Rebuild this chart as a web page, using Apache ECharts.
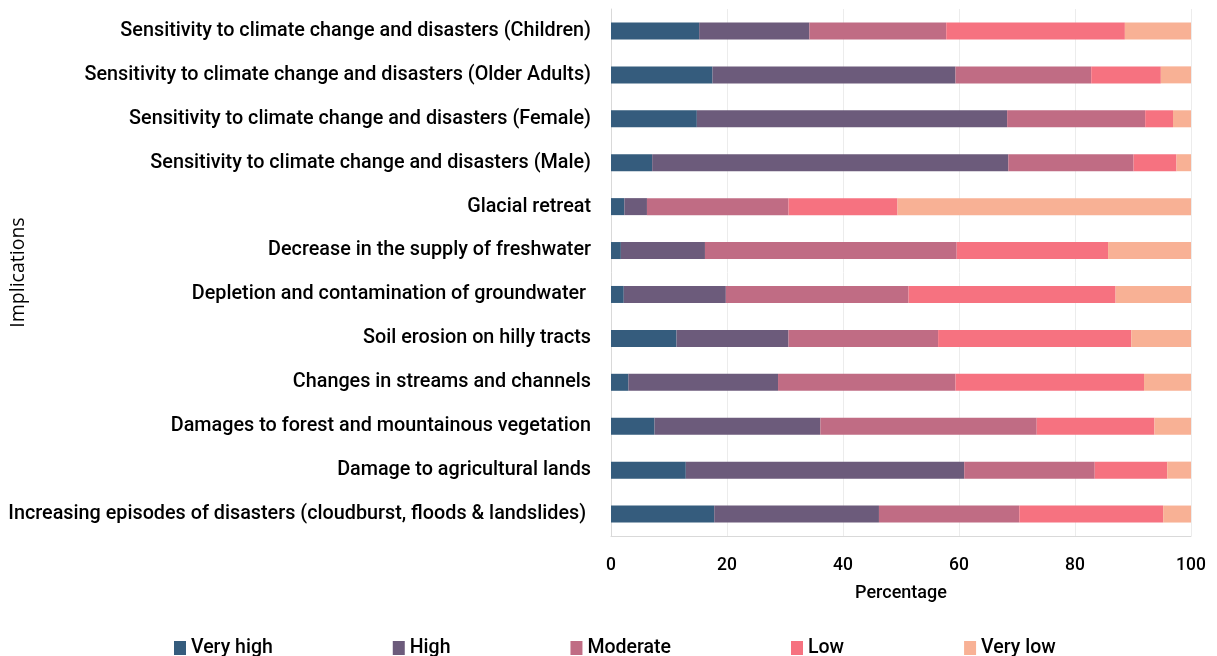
<!DOCTYPE html>
<html>
<head>
<meta charset="utf-8">
<script src="https://cdn.jsdelivr.net/npm/echarts@6/dist/echarts.min.js"></script>
<style>
  html, body { margin: 0; padding: 0; background: #ffffff; }
  #chart { width: 1217px; height: 656px; }
</style>
</head>
<body>
<div id="chart"></div>
<script>
// Implications, listed top to bottom
const categories = [
  'Sensitivity to climate change and disasters (Children)',
  'Sensitivity to climate change and disasters (Older Adults)',
  'Sensitivity to climate change and disasters (Female)',
  'Sensitivity to climate change and disasters (Male)',
  'Glacial retreat',
  'Decrease in the supply of freshwater',
  'Depletion and contamination of groundwater ',
  'Soil erosion on hilly tracts',
  'Changes in streams and channels',
  'Damages to forest and mountainous vegetation',
  'Damage to agricultural lands',
  'Increasing episodes of disasters (cloudburst, floods & landslides) '
];

// Percentage of responses per rating
const veryHigh = [15.2, 17.5, 14.8, 7.1, 2.3, 1.7, 2.2, 11.3, 3.0, 7.5, 12.9, 17.8];
const high     = [19.0, 41.9, 53.5, 61.4, 3.9, 14.5, 17.6, 19.3, 25.8, 28.6, 48.0, 28.4];
const moderate = [23.6, 23.4, 23.8, 21.6, 24.4, 43.4, 31.5, 25.8, 30.6, 37.3, 22.5, 24.2];
const low      = [30.8, 12.0, 4.8, 7.4, 18.8, 26.1, 35.7, 33.3, 32.5, 20.3, 12.5, 24.8];
const veryLow  = [11.4, 5.2, 3.1, 2.5, 50.6, 14.3, 13.0, 10.3, 8.1, 6.3, 4.1, 4.8];

const seriesNames = ['Very high', 'High', 'Moderate', 'Low', 'Very low'];
const seriesData = [veryHigh, high, moderate, low, veryLow];
const colors = ['#355C7D', '#6C5B7B', '#C06C84', '#F67280', '#F8B195'];

const labelFont = 'Roboto, "Noto Sans", sans-serif';

const chart = echarts.init(document.getElementById('chart'));
chart.setOption({
  animation: false,
  color: colors,
  grid: { left: 611, right: 26, top: 9, bottom: 120, containLabel: false, outerBoundsMode: 'none' },
  legend: {
    data: seriesNames,
    top: 633,
    left: 169,
    itemWidth: 12,
    itemHeight: 14,
    itemGap: 120,
    icon: 'rect',
    textStyle: { fontFamily: labelFont, fontSize: 19.5, fontWeight: 500, color: '#000' }
  },
  xAxis: {
    type: 'value',
    min: 0,
    max: 100,
    interval: 20,
    name: 'Percentage',
    nameLocation: 'middle',
    nameGap: 48,
    nameTextStyle: { fontFamily: labelFont, fontSize: 18, fontWeight: 500, color: '#000' },
    axisLine: { show: true, lineStyle: { color: '#d9d9d9' } },
    axisTick: { show: false },
    axisLabel: { fontFamily: labelFont, fontSize: 17.5, fontWeight: 500, color: '#000', margin: 21 },
    splitLine: { show: true, lineStyle: { color: '#ececec' } }
  },
  yAxis: {
    type: 'category',
    data: categories,
    inverse: true,
    name: 'Implications',
    nameLocation: 'middle',
    nameGap: 583,
    nameRotate: 90,
    nameMoveOverlap: false,
    nameTextStyle: { fontFamily: '"Open Sans", sans-serif', fontSize: 19.5, color: '#000' },
    axisLine: { show: true, lineStyle: { color: '#d9d9d9' } },
    axisTick: { show: false },
    axisLabel: { fontFamily: labelFont, fontSize: 19.8, fontWeight: 500, color: '#000', margin: 20 }
  },
  series: seriesNames.map((name, i) => ({
    name: name,
    type: 'bar',
    stack: 'total',
    barWidth: 17,
    data: seriesData[i],
    itemStyle: { color: colors[i] }
  }))
});
</script>
</body>
</html>
